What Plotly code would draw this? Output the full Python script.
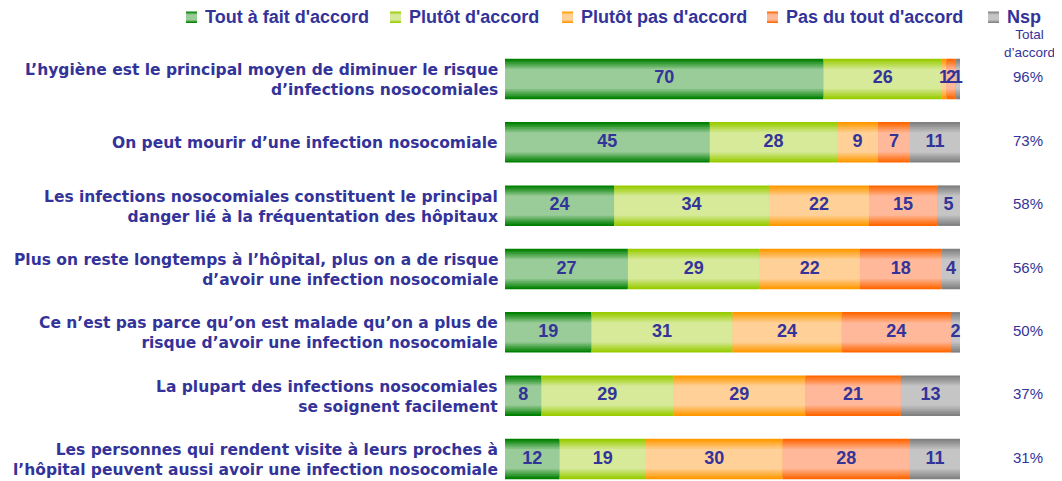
import plotly.graph_objects as go

# ---------------- data ----------------
statements = [
    "L’hygiène est le principal moyen de diminuer le risque<br>d’infections nosocomiales",
    "On peut mourir d’une infection nosocomiale",
    "Les infections nosocomiales constituent le principal<br>danger lié à la fréquentation des hôpitaux",
    "Plus on reste longtemps à l’hôpital, plus on a de risque<br>d’avoir une infection nosocomiale",
    "Ce n’est pas parce qu’on est malade qu’on a plus de<br>risque d’avoir une infection nosocomiale",
    "La plupart des infections nosocomiales<br>se soignent facilement",
    "Les personnes qui rendent visite à leurs proches à<br>l’hôpital peuvent aussi avoir une infection nosocomiale",
]
series_names = ["Tout à fait d'accord", "Plutôt d'accord", "Plutôt pas d'accord",
                "Pas du tout d'accord", "Nsp"]
tout_a_fait = [70, 45, 24, 27, 19, 8, 12]
plutot = [26, 28, 34, 29, 31, 29, 19]
plutot_pas = [1, 9, 22, 22, 24, 29, 30]
pas_du_tout = [2, 7, 15, 18, 24, 21, 28]
nsp = [1, 11, 5, 4, 2, 13, 11]
total_accord = [96, 73, 58, 56, 50, 37, 31]
series_values = [tout_a_fait, plutot, plutot_pas, pas_du_tout, nsp]

# ---------------- style ----------------
edge_colors = [(0, 128, 0), (153, 204, 0), (255, 153, 0), (255, 102, 0), (128, 128, 128)]
center_colors = [(153, 204, 153), (214, 234, 154), (255, 209, 153), (255, 184, 153), (197, 197, 197)]
TEXT = "#333399"
FONT = "Liberation Sans, Arial, sans-serif"
LABEL_FONT = "DejaVu Sans, Liberation Sans, sans-serif"
BAR_W = 0.64
N_LAYERS = 7

OFF = 8  # page body margin
W, H = 1062 - OFF, 481 - OFF
ML, MR, MT, MB = 505 - OFF, 102, 47 - OFF, 0
PW, PH = W - ML - MR, H - MT - MB


def px_x(px):  # screen px -> paper
    return (px - OFF - ML) / PW


def px_y(py):
    return (H - MB - (py - OFF)) / PH


def mix(a, b, t):
    return "rgb(%d,%d,%d)" % tuple(round(a[i] + (b[i] - a[i]) * t) for i in range(3))


rows = list(range(len(statements)))
fig = go.Figure()

bases = []
cum = [0] * len(rows)
for vals in series_values:
    bases.append(list(cum))
    cum = [c + v for c, v in zip(cum, vals)]

# layered bars to imitate the vertical gradient
for k in range(N_LAYERS):
    t = k / (N_LAYERS - 1)
    frac = 1.0 - 0.5 * t
    for s, vals in enumerate(series_values):
        fig.add_trace(go.Bar(
            y=rows, x=vals, base=bases[s], orientation="h",
            width=BAR_W * frac,
            marker=dict(color=mix(edge_colors[s], center_colors[s], t), line=dict(width=0)),
            name=series_names[s], showlegend=False,
            hoverinfo="skip" if k else "x+name",
        ))

# value labels
for s, vals in enumerate(series_values):
    fig.add_trace(go.Scatter(
        y=rows, x=[b + v / 2 for b, v in zip(bases[s], vals)],
        text=[str(v) for v in vals], mode="text",
        textfont=dict(family=FONT, size=18, color=TEXT, weight="bold"),
        showlegend=False, hoverinfo="skip", cliponaxis=False,
    ))

annotations = []
for r, lab in zip(rows, statements):
    annotations.append(dict(
        x=0, xref="paper", y=r, yref="y", text=lab, showarrow=False,
        xanchor="right", yanchor="middle", align="right", xshift=-5, yshift=-1,
        font=dict(family=LABEL_FONT, size=15.5, color=TEXT, weight="bold"),
    ))
for r, tot in zip(rows, total_accord):
    annotations.append(dict(
        x=px_x(1028), xref="paper", y=r, yref="y", yshift=2, text=f"{tot}%",
        showarrow=False, xanchor="center", yanchor="middle",
        font=dict(family=FONT, size=15, color=TEXT),
    ))
annotations.append(dict(
    x=px_x(1029), xref="paper", y=px_y(43), yref="paper", text="Total<br>d’accord",
    showarrow=False, xanchor="center", yanchor="middle", align="center",
    font=dict(family=FONT, size=13.5, color=TEXT),
))

legend_text_x = [203, 407, 579, 784, 1005]
shapes = []
for s, name in enumerate(series_names):
    tx = legend_text_x[s]
    annotations.append(dict(
        x=px_x(tx), xref="paper", y=px_y(17), yref="paper", text=name,
        showarrow=False, xanchor="left", yanchor="middle",
        font=dict(family=FONT, size=18, color=TEXT, weight="bold"),
    ))
    x0, x1 = px_x(tx - 17), px_x(tx - 6)
    y_top, y_bot = 11.5, 23
    n = 5
    for k in range(n):
        t = k / (n - 1)
        inset = (y_bot - y_top) / 2 * 0.5 * t
        shapes.append(dict(
            type="rect", xref="paper", yref="paper", x0=x0, x1=x1,
            y0=px_y(y_bot - inset), y1=px_y(y_top + inset),
            fillcolor=mix(edge_colors[s], center_colors[s], t), line=dict(width=0),
        ))

fig.update_layout(
    width=W, height=H,
    margin=dict(l=ML, r=MR, t=MT, b=MB, pad=0),
    barmode="overlay",
    paper_bgcolor="white", plot_bgcolor="white",
    xaxis=dict(range=[0, 100], visible=False, fixedrange=True),
    yaxis=dict(range=[6.347, -0.505], visible=False, fixedrange=True),
    annotations=annotations, shapes=shapes,
    showlegend=False,
    font=dict(family=FONT, color=TEXT),
)

fig.write_html("out.html")
